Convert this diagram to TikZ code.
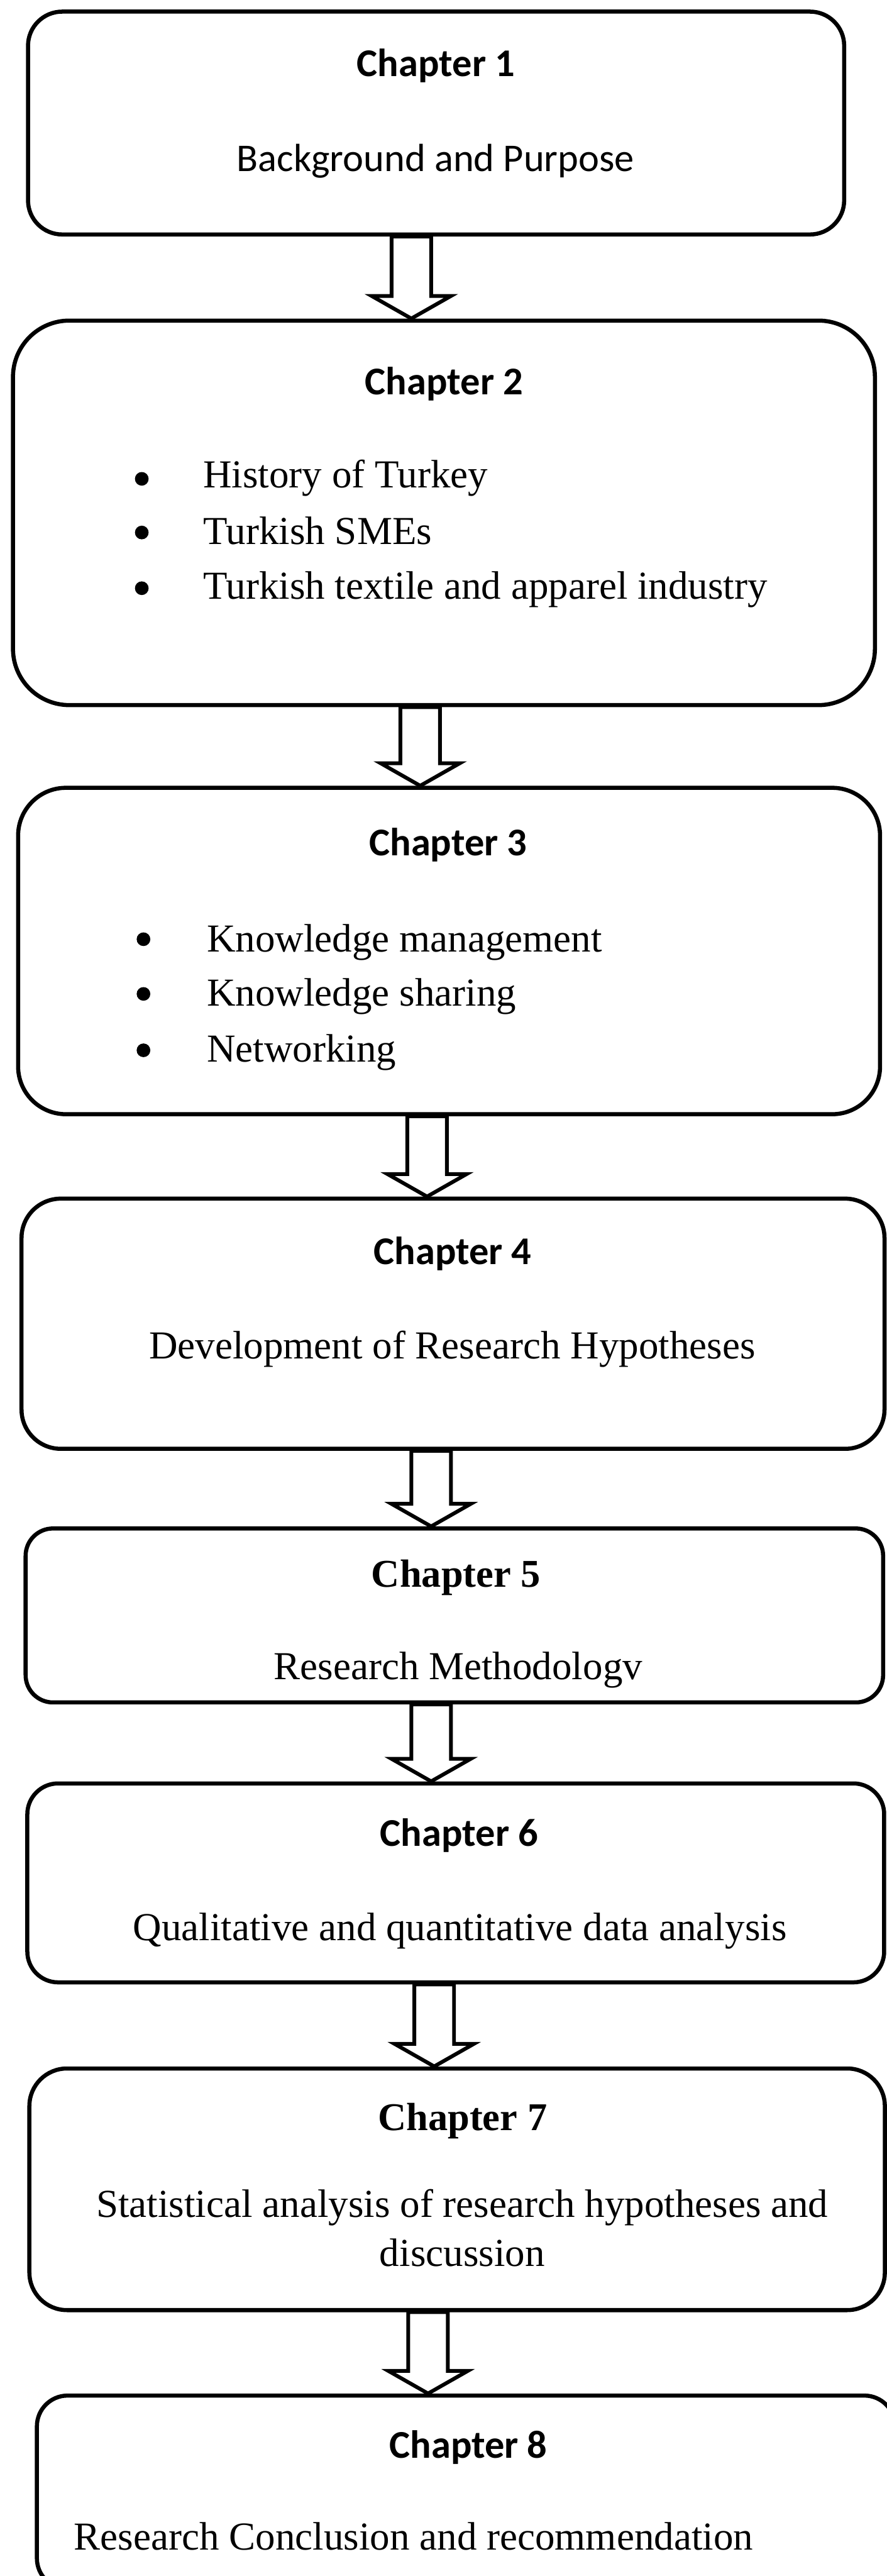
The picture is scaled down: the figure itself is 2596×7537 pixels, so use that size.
\documentclass[tikz,border=0pt]{standalone}
\usepackage{fontspec}
\setmainfont{Liberation Serif}
\newfontfamily\calibrifont{Carlito}
\usetikzlibrary{calc,fit}

\tikzset{
  chapbox/.style={draw, line width=1.2pt, inner sep=0pt},
  heading/.style={anchor=base, inner sep=0pt, font=\calibrifont\bfseries\fontsize{11.5}{13}\selectfont},
  serifheading/.style={anchor=base, inner sep=0pt, font=\bfseries\fontsize{11.5}{13}\selectfont},
  bodytext/.style={anchor=base, inner sep=0pt, font=\fontsize{11.6}{13}\selectfont},
  sanstext/.style={anchor=base, inner sep=0pt, font=\calibrifont\fontsize{11.5}{13}\selectfont},
  itemtext/.style={anchor=base west, inner sep=0pt, font=\fontsize{11.6}{13}\selectfont},
  itemdot/.style={circle, fill=black, inner sep=0pt, minimum size=4pt},
  blockarrow/.style={draw, line width=1.1pt, fill=white, line join=miter},
}

% hollow block arrow from the bottom of #1 to the top of #2, axis at x = #3
\newcommand\chaparrow[3]{%
  \coordinate (ax) at (#3,0);
  \draw[blockarrow]
    ($(#1.south -| ax)+(-58,0)$)
    -- ($(#2.north -| ax)+(-58,-66)$)
    -- ($(#2.north -| ax)+(-116,-66)$)
    -- (#2.north -| ax)
    -- ($(#2.north -| ax)+(116,-66)$)
    -- ($(#2.north -| ax)+(58,-66)$)
    -- ($(#1.south -| ax)+(58,0)$)
    -- cycle;
}

\begin{document}
\begin{tikzpicture}[x=0.1pt, y=-0.1pt]
\useasboundingbox (0,0) rectangle (2596,7537);
\clip (0,0) rectangle (2596,7537);

% chapter boxes
\node[chapbox, rounded corners=10pt,   fit={(82,34) (2471,686)}]    (b1) {};
\node[chapbox, rounded corners=16.5pt, fit={(38,938) (2561,2063)}]  (b2) {};
\node[chapbox, rounded corners=14pt,   fit={(53,2305) (2576,3260)}] (b3) {};
\node[chapbox, rounded corners=11.5pt, fit={(63,3507) (2589,4239)}] (b4) {};
\node[chapbox, rounded corners=8pt,    fit={(75,4472) (2585,4981)}] (b5) {};
\node[chapbox, rounded corners=9pt,    fit={(80,5218) (2588,5800)}] (b6) {};
\node[chapbox, rounded corners=11pt,   fit={(86,6052) (2590,6759)}] (b7) {};
\node[chapbox, rounded corners=9pt,    fit={(108,7009) (2620,7575)}] (b8) {};

% connectors
\chaparrow{b1}{b2}{1204}
\chaparrow{b2}{b3}{1230}
\chaparrow{b3}{b4}{1250}
\chaparrow{b4}{b5}{1262}
\chaparrow{b5}{b6}{1262}
\chaparrow{b6}{b7}{1271}
\chaparrow{b7}{b8}{1253}

% Chapter 1
\node[heading]  (t1) at (1276,223) {Chapter 1};
\node[sanstext] (d1) at (1275,502) {Background and Purpose};

% Chapter 2
\node[heading]  (t2) at (1300,1154) {Chapter 2};
\node[itemdot] (m2a) at (415,1401) {};
\node[itemdot] (m2b) at (415,1558) {};
\node[itemdot] (m2c) at (415,1721) {};
\node[itemtext] (i2a) at (593,1427) {History of Turkey};
\node[itemtext] (i2b) at (593,1592) {Turkish SMEs};
\node[itemtext] (i2c) at (593,1753) {Turkish textile and apparel industry};

% Chapter 3
\node[heading]  (t3) at (1312,2504) {Chapter 3};
\node[itemdot] (m3a) at (420,2748) {};
\node[itemdot] (m3b) at (420,2908) {};
\node[itemdot] (m3c) at (420,3073) {};
\node[itemtext] (i3a) at (604,2785) {Knowledge management};
\node[itemtext] (i3b) at (604,2944) {Knowledge sharing};
\node[itemtext] (i3c) at (604,3107) {Networking};

% Chapter 4
\node[heading]  (t4) at (1325,3700) {Chapter 4};
\node[bodytext] (d4) at (1324,3975) {Development of Research Hypotheses};

% Chapter 5
\node[serifheading] (t5) at (1335,4644) {Chapter 5};
\node[bodytext]     (d5) at (1341,4914) {Research Methodologv};

% Chapter 6
\node[heading]  (t6) at (1344,5402) {Chapter 6};
\node[bodytext] (d6) at (1346,5677) {Qualitative and quantitative data analysis};

% Chapter 7
\node[serifheading] (t7) at (1354,6233) {Chapter 7};
\node[bodytext] (d7a) at (1353,6488) {Statistical analysis of research hypotheses and};
\node[bodytext] (d7b) at (1353,6631) {discussion};

% Chapter 8
\node[heading]  (t8) at (1371,7192) {Chapter 8};
\node[itemtext] (d8) at (215,7461) {Research Conclusion and recommendation};
\end{tikzpicture}
\end{document}
